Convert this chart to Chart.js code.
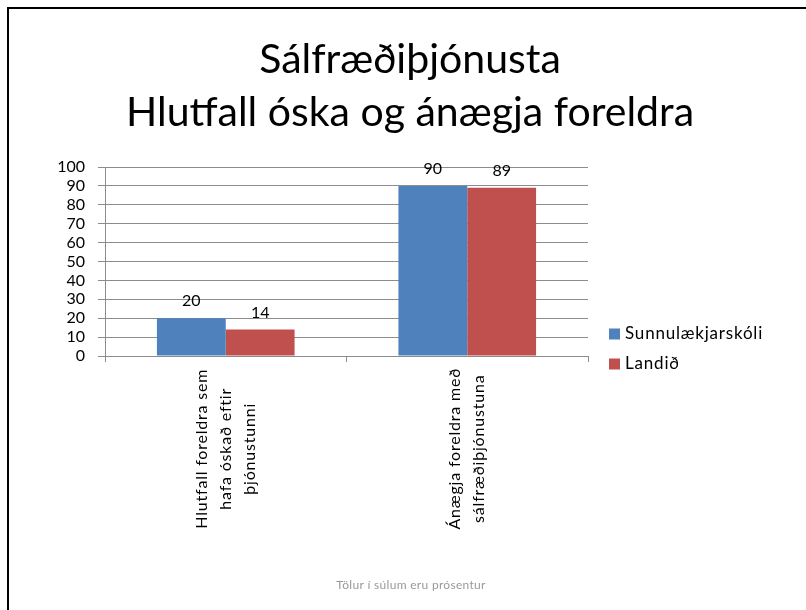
<!DOCTYPE html>
<html>
<head>
<meta charset="utf-8">
<script src="https://cdn.jsdelivr.net/npm/chart.js@4.4.1/dist/chart.umd.min.js"></script>
<style>
  html, body { margin: 0; padding: 0; background: #fff; }
  #wrap { position: relative; width: 806px; height: 610px; overflow: hidden; }
  #frame { position: absolute; left: 7px; top: 7px; width: 820px; height: 620px;
           border-left: 2px solid #000; border-top: 2px solid #000; pointer-events: none; }
</style>
</head>
<body>
<div id="wrap">
  <canvas id="myChart" width="806" height="610"></canvas>
  <div id="frame"></div>
</div>
<script>
// data
const titleLines = ['Sálfræðiþjónusta', 'Hlutfall óska og ánægja foreldra'];
const categories = [
    ['Hlutfall foreldra sem', 'hafa óskað eftir', 'þjónustunni'],
    ['Ánægja foreldra með', 'sálfræðiþjónustuna']
];
const seriesNames = ['Sunnulækjarskóli', 'Landið'];
const sunnulaek = [20, 90];
const landid = [14, 89];
const yTicks = [0, 10, 20, 30, 40, 50, 60, 70, 80, 90, 100];
const footnote = 'Tölur í súlum eru prósentur';

const barColor = ['#4F81BD', '#C0504D'];
const gridGray = '#8c8c8c';

Chart.defaults.font.family = 'Lato';

// title, category labels, legend, value labels and footnote
const slideText = {
    id: 'slideText',
    afterDraw(chart) {
        const ctx = chart.ctx;
        const area = chart.chartArea;
        const xs = chart.scales.x;
        ctx.save();
        ctx.fillStyle = '#000';
        ctx.textAlign = 'center';
        ctx.textBaseline = 'middle';

        ctx.font = '41px Lato';
        titleLines.forEach((t, i) => ctx.fillText(t, 410, 60 + i * 53));

        // values above bars
        ctx.font = '16px Lato';
        chart.data.datasets.forEach((ds, d) => {
            chart.getDatasetMeta(d).data.forEach((bar, i) => {
                ctx.fillText(ds.data[i], bar.x, bar.y - 17);
            });
        });

        // rotated category labels, centred in a shared label box
        ctx.font = '16px Lato';
        ctx.letterSpacing = '0.8px';
        let maxW = 0;
        categories.forEach(lines => lines.forEach(l => { maxW = Math.max(maxW, ctx.measureText(l).width); }));
        const cy = area.bottom + 12 + maxW / 2;
        categories.forEach((lines, i) => {
            const x = xs.getPixelForValue(i);
            lines.forEach((l, j) => {
                const off = (j - (lines.length - 1) / 2) * 24;
                ctx.save();
                ctx.translate(x + off, cy);
                ctx.rotate(-Math.PI / 2);
                ctx.fillText(l, 0, 0);
                ctx.restore();
            });
        });

        // legend
        ctx.textAlign = 'left';
        ctx.font = '17px Lato';
        chart.data.datasets.forEach((ds, d) => {
            const y = 334 + d * 30;
            ctx.fillStyle = ds.backgroundColor;
            ctx.fillRect(609, y - 5.5, 11, 11);
            ctx.fillStyle = '#000';
            ctx.fillText(ds.label, 625, y);
        });

        ctx.letterSpacing = '0.3px';
        ctx.textAlign = 'center';
        ctx.font = '12px Lato';
        ctx.fillStyle = '#999';
        ctx.fillText(footnote, 411, 585);
        ctx.restore();
    }
};

new Chart('myChart', {
    type: 'bar',
    data: {
        labels: categories,
        datasets: [
            { label: seriesNames[0], data: sunnulaek, backgroundColor: barColor[0] },
            { label: seriesNames[1], data: landid, backgroundColor: barColor[1] }
        ]
    },
    options: {
        responsive: false,
        animation: false,
        categoryPercentage: 0.57,
        barPercentage: 1.0,
        layout: { padding: { top: 167, left: 14, right: 218, bottom: 0 } },
        plugins: {
            legend: { display: false },
            title: { display: false },
            tooltip: { enabled: false }
        },
        scales: {
            x: {
                ticks: { display: false },
                grid: { drawOnChartArea: false, color: gridGray, tickLength: 6, offset: true },
                border: { color: gridGray, width: 1 },
                afterFit(scale) { scale.height = 254; }
            },
            y: {
                min: 0,
                max: 100,
                afterBuildTicks(scale) { scale.ticks = yTicks.map(v => ({ value: v })); },
                ticks: { color: '#000', font: { size: 16 }, padding: 13, autoSkip: false },
                grid: { color: gridGray, tickLength: 7 },
                border: { color: gridGray, width: 1 },
                afterFit(scale) { scale.width = 91; }
            }
        }
    },
    plugins: [slideText]
});
</script>
</body>
</html>
